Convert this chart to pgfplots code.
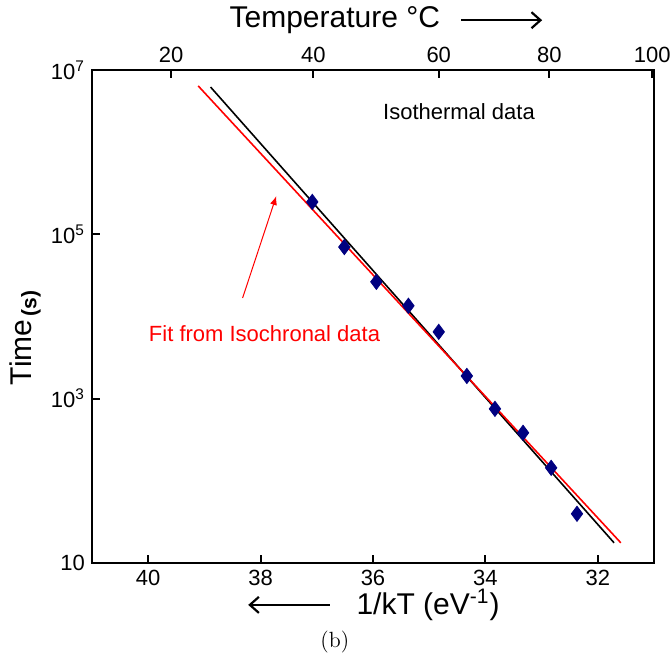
\documentclass[border=0pt]{standalone}
\usepackage{fontspec}
\setsansfont{Liberation Sans}
\usepackage{pgfplots}
\pgfplotsset{compat=1.18}
\usetikzlibrary{arrows.meta}
\definecolor{navy}{RGB}{0,0,128}
\begin{document}
\begin{tikzpicture}
\pgfplotsset{
  every axis/.append style={
    scale only axis, width=281pt, height=246.5pt,
    xmin=31, xmax=41, x dir=reverse,
    axis line style={line width=1pt},
    major tick length=4pt,
    tick style={line width=1pt, black},
    tick label style={font=\sffamily\fontsize{11}{13}\selectfont},
    xticklabel style={/pgf/number format/assume math mode=true},
  }
}
\begin{axis}[name=main,
  ymode=log, ymin=10, ymax=1e7,
  xtick={32,34,36,38,40}, xtick pos=bottom,
  ytick={10,1e3,1e5,1e7},
  yticklabels={10,10\textsuperscript{3},10\textsuperscript{5},10\textsuperscript{7}},
  ytick pos=left, yminorticks=false,
  clip=false,
]
\addplot[black, line width=0.8pt] coordinates {(38.89,6.2e6) (31.71,17.6)};
\addplot[red, line width=0.8pt] coordinates {(39.11,6.4e6) (31.59,17.6)};
\addplot[only marks, mark=diamond*, mark size=3.8pt, color=navy, mark options={fill=navy, draw=navy}] coordinates {
(37.08,2.48e5) (36.51,7.0e4) (35.94,2.64e4) (35.37,1.35e4) (34.83,6.5e3)
(34.33,1.89e3) (33.83,752) (33.33,384) (32.83,144) (32.37,39.7)};
\node[font=\sffamily\fontsize{11}{13}\selectfont] at (axis cs:34.47,3.1e6) {Isothermal data};
\node[red, font=\sffamily\fontsize{11}{13}\selectfont] at (axis cs:37.93,6.2e3) {Fit from Isochronal data};
\draw[red, line width=0.5pt, -{Latex[length=4.5pt,width=3.5pt]}] (axis cs:38.32,1.68e4) -- (axis cs:37.72,2.93e5);
\node[rotate=90, font=\sffamily\fontsize{15}{17}\selectfont] at (rel axis cs:-0.119,0.458) {Time\textsubscript{\textbf{\,(s)}}};
\node[font=\sffamily\fontsize{15}{17}\selectfont] at (rel axis cs:0.598,-0.085) {1/kT (eV\textsuperscript{-1})};
\draw[line width=1.1pt, -{Straight Barb[length=4.5pt,width=8pt]}] (rel axis cs:0.423,-0.085) -- (rel axis cs:0.278,-0.085);
\node[font=\sffamily\fontsize{15}{17}\selectfont] at (rel axis cs:0.432,1.101) {Temperature °C};
\draw[line width=1.1pt, -{Straight Barb[length=4.5pt,width=8pt]}] (rel axis cs:0.657,1.101) -- (rel axis cs:0.801,1.101);
\node[font=\rmfamily\fontsize{11}{13}\selectfont] at (rel axis cs:0.432,-0.16) {(b)};
\end{axis}
\begin{axis}[
  ymin=0, ymax=1, axis y line=none, axis x line*=top,
  xtick={39.59,37.06,34.83,32.86,31.03},
  xticklabels={20,40,60,80,100},
]
\addplot[draw=none] coordinates {(35,0.5)};
\end{axis}
\pgfresetboundingbox
\path[use as bounding box] ([shift={(-46pt,-48pt)}]main.south west) rectangle ([shift={(8pt,35pt)}]main.north east);
\end{tikzpicture}
\end{document}
